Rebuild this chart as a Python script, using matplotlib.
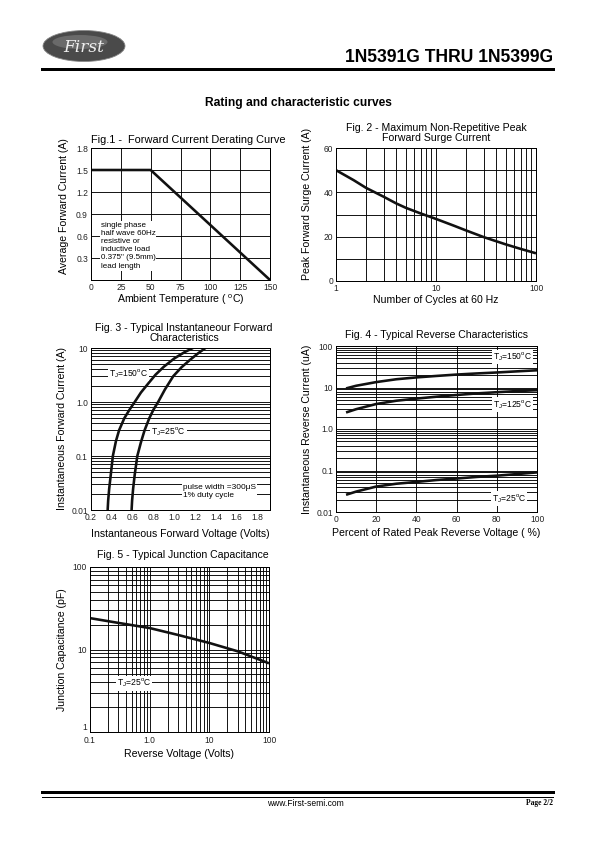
import numpy as np
import matplotlib
matplotlib.use("Agg")
import matplotlib.pyplot as plt
from matplotlib.patches import Ellipse
from matplotlib.ticker import FixedLocator, NullFormatter, LogLocator
from matplotlib.lines import Line2D

plt.rcParams['font.family'] = ['Liberation Sans', 'DejaVu Sans']
plt.rcParams['mathtext.fontset'] = 'custom'
plt.rcParams['mathtext.rm'] = 'Liberation Sans'

# ---------------- data ----------------
# Fig 1 derating
fig1_temp = [0, 50, 150]
fig1_current = [1.5, 1.5, 0.0]
fig1_xticks = [0, 25, 50, 75, 100, 125, 150]
fig1_yticks = [0.3, 0.6, 0.9, 1.2, 1.5, 1.8]

# Fig 2 surge
fig2_cycles = [1, 1.5, 2, 3, 4, 5, 7, 10, 15, 20, 30, 50, 70, 100]
fig2_current = [50, 45.5, 42, 38, 35, 33, 30.5, 28, 25, 22.8, 19.8, 16.5, 14.5, 12.5]

# Fig 3 forward characteristics
fig3_v150 = [0.36, 0.365, 0.375, 0.39, 0.41, 0.44, 0.47, 0.52, 0.57, 0.62, 0.68, 0.75, 0.82, 0.90, 1.00, 1.10, 1.18]
fig3_i150 = [0.01, 0.015, 0.025, 0.045, 0.1, 0.19, 0.3, 0.5, 0.72, 1.0, 1.5, 2.2, 3.2, 4.5, 6.4, 8.4, 10]
fig3_v25 = [0.59, 0.595, 0.605, 0.62, 0.645, 0.68, 0.715, 0.76, 0.80, 0.845, 0.91, 0.99, 1.07, 1.15, 1.23, 1.30]
fig3_i25 = [0.01, 0.015, 0.025, 0.045, 0.1, 0.18, 0.3, 0.5, 0.72, 1.0, 1.7, 3.0, 4.4, 6.0, 8.0, 10]
fig3_xticks = [0.2, 0.4, 0.6, 0.8, 1.0, 1.2, 1.4, 1.6, 1.8]

# Fig 4 reverse characteristics
fig4_pct = [5, 10, 20, 30, 40, 50, 60, 70, 80, 90, 100]
fig4_i150 = [9.5, 11, 13.5, 15.8, 17.5, 19, 20.5, 21.8, 23, 24.5, 26]
fig4_i125 = [2.5, 3.0, 4.0, 4.8, 5.4, 6.0, 6.6, 7.2, 7.7, 8.2, 8.6]
fig4_i25 = [0.026, 0.031, 0.041, 0.048, 0.053, 0.059, 0.064, 0.07, 0.075, 0.082, 0.09]

# Fig 5 capacitance
fig5_v = [0.1, 0.3, 1.0, 3.0, 10, 30, 100]
fig5_c = [24, 21, 18.2, 15, 12, 9.5, 6.8]

W, H = 595, 842
fig = plt.figure(figsize=(W / 72, H / 72), dpi=72)

TICK = 8.5
LAB = 10.5
TIT = 10.5
ANN = 8.5


def add_ax(l, t, r, b):
    return fig.add_axes([l / W, 1 - b / H, (r - l) / W, (b - t) / H])


def style(ax):
    for s in ax.spines.values():
        s.set_linewidth(1.0)
        s.set_color('black')
    ax.tick_params(which='both', length=0, labelsize=TICK, pad=3, colors='#222222')
    ax.set_axisbelow(True)


GRID = dict(color='black', linewidth=0.9)
CURVE = dict(color='#111111', linewidth=2.6, solid_capstyle='butt')
BOX = dict(facecolor='white', edgecolor='none', pad=1.0)

# ---------- header ----------
ell = Ellipse((84 / W, 1 - 46 / H), 82 / W, 31 / H, transform=fig.transFigure,
              facecolor='#4a4a4a', edgecolor='#888888', linewidth=0.8)
fig.patches.append(ell)
ell2 = Ellipse((80 / W, 1 - 42 / H), 55 / W, 14 / H, transform=fig.transFigure,
               facecolor='#8a8a8a', edgecolor='none', alpha=0.5)
fig.patches.append(ell2)
fig.text(84 / W, 1 - 47 / H, 'First', fontsize=17, style='italic', family='DejaVu Serif',
         color='#eeeeee', ha='center', va='center')
fig.text(553 / W, 1 - 57 / H, '1N5391G THRU 1N5399G', fontsize=17.5, fontweight='bold',
         ha='right', va='center')
fig.add_artist(Line2D([42 / W, 553 / W], [1 - 69 / H, 1 - 69 / H], color='black', linewidth=3))
fig.text(298 / W, 1 - 103 / H, 'Rating and characteristic curves', fontsize=12,
         fontweight='bold', ha='center', va='center')

# ---------- footer ----------
fig.add_artist(Line2D([42 / W, 553 / W], [1 - 792 / H, 1 - 792 / H], color='black', linewidth=3))
fig.add_artist(Line2D([42 / W, 553 / W], [1 - 796.5 / H, 1 - 796.5 / H], color='black', linewidth=1))
fig.text(305 / W, 1 - 803 / H, 'www.First-semi.com', fontsize=8.5, ha='center', va='center')
fig.text(553 / W, 1 - 803 / H, 'Page 2/2', fontsize=7.5, fontweight='bold', family='Liberation Serif',
         ha='right', va='center')

# ---------- Fig 1 ----------
ax1 = add_ax(91, 148, 270, 280)
style(ax1)
ax1.set_xlim(0, 150)
ax1.set_ylim(0, 1.8)
ax1.set_xticks(fig1_xticks)
ax1.set_yticks(fig1_yticks)
ax1.grid(True, **GRID)
ax1.plot(fig1_temp, fig1_current, **CURVE)
ax1.text(8, 0.79, 'single phase\nhalf wave 60Hz\nresistive or\ninductive load\n0.375" (9.5mm)\nlead length',
         fontsize=8, va='top', ha='left', linespacing=1.22, bbox=BOX)
ax1.set_xlabel('Ambient Temperature ( $^{\\mathrm{o}}$C)', fontsize=LAB, labelpad=1)
ax1.set_ylabel('Average Forward Current (A)', fontsize=LAB)
ax1.yaxis.set_label_coords(-0.125, 0.56)
ax1.set_title('Fig.1 -  Forward Current Derating Curve', fontsize=11, pad=5, loc='left', x=0.0)

# ---------- Fig 2 ----------
ax2 = add_ax(336, 148, 536, 281)
style(ax2)
ax2.set_xscale('log')
ax2.set_xlim(1, 100)
ax2.set_ylim(0, 60)
ax2.set_yticks([0, 20, 40, 60])
ax2.yaxis.set_minor_locator(FixedLocator([10, 30, 50]))
ax2.set_xticks([1, 10, 100])
ax2.set_xticklabels(['1', '10', '100'])
ax2.xaxis.set_minor_locator(LogLocator(base=10, subs=np.arange(2, 10)))
ax2.xaxis.set_minor_formatter(NullFormatter())
ax2.grid(True, which='both', **GRID)
ax2.plot(fig2_cycles, fig2_current, **CURVE)
ax2.set_xlabel('Number of Cycles at 60 Hz', fontsize=LAB, labelpad=2)
ax2.set_ylabel('Peak Forward Surge Current (A)', fontsize=LAB)
ax2.yaxis.set_label_coords(-0.12, 0.58)
ax2.set_title('Fig. 2 - Maximum Non-Repetitive Peak\nForward Surge Current', fontsize=TIT,
              pad=7, linespacing=1.0)

# ---------- Fig 3 ----------
ax3 = add_ax(91, 348, 270, 510)
style(ax3)
ax3.set_yscale('log')
ax3.set_xlim(0.2, 1.92)
ax3.set_ylim(0.01, 10)
ax3.set_xticks(fig3_xticks)
ax3.set_xticklabels([f'{t:.1f}' for t in fig3_xticks])
ax3.set_yticks([0.01, 0.1, 1, 10])
ax3.set_yticklabels(['0.01', '0.1', '1.0', '10'])
ax3.yaxis.set_minor_locator(LogLocator(base=10, subs=np.arange(2, 10)))
ax3.yaxis.set_minor_formatter(NullFormatter())
ax3.grid(True, which='both', axis='y', **GRID)
ax3.plot(fig3_v150, fig3_i150, **CURVE)
ax3.plot(fig3_v25, fig3_i25, **CURVE)
ax3.text(0.56, 3.4, 'T$_\\mathrm{J}$=150$^\\mathrm{o}$C', fontsize=ANN, ha='center', va='center', bbox=BOX)
ax3.text(0.945, 0.28, 'T$_\\mathrm{J}$=25$^\\mathrm{o}$C', fontsize=ANN, ha='center', va='center', bbox=BOX)
ax3.text(1.08, 0.022, 'pulse width =300\u03bcS\n1% duty cycle', fontsize=8.3, ha='left', va='center',
         linespacing=1.2, bbox=BOX)
ax3.set_xlabel('Instantaneous Forward Voltage (Volts)', fontsize=LAB, labelpad=7)
ax3.set_ylabel('Instantaneous Forward Current (A)', fontsize=LAB, labelpad=4)
ax3.set_title('Fig. 3 - Typical Instantaneour Forward\nCharacteristics', fontsize=TIT, pad=7,
              linespacing=1.0, x=0.52)

# ---------- Fig 4 ----------
ax4 = add_ax(336, 346, 537, 512)
style(ax4)
ax4.set_yscale('log')
ax4.set_xlim(0, 100)
ax4.set_ylim(0.01, 100)
ax4.set_xticks([0, 20, 40, 60, 80, 100])
ax4.set_yticks([0.01, 0.1, 1, 10, 100])
ax4.set_yticklabels(['0.01', '0.1', '1.0', '10', '100'])
ax4.yaxis.set_minor_locator(LogLocator(base=10, subs=np.arange(2, 10)))
ax4.yaxis.set_minor_formatter(NullFormatter())
ax4.grid(True, which='major', axis='x', **GRID)
ax4.grid(True, which='both', axis='y', **GRID)
ax4.plot(fig4_pct, fig4_i150, **CURVE)
ax4.plot(fig4_pct, fig4_i125, **CURVE)
ax4.plot(fig4_pct, fig4_i25, **CURVE)
ax4.text(88, 55, 'T$_\\mathrm{J}$=150$^\\mathrm{o}$C', fontsize=ANN, ha='center', va='center', bbox=BOX)
ax4.text(88, 3.9, 'T$_\\mathrm{J}$=125$^\\mathrm{o}$C', fontsize=ANN, ha='center', va='center', bbox=BOX)
ax4.text(86, 0.021, 'T$_\\mathrm{J}$=25$^\\mathrm{o}$C', fontsize=ANN, ha='center', va='center', bbox=BOX)
ax4.set_xlabel('Percent of Rated Peak Reverse Voltage ( %)', fontsize=LAB, labelpad=4)
ax4.set_ylabel('Instantaneous Reverse Current (uA)', fontsize=LAB, labelpad=4)
ax4.set_title('Fig. 4 - Typical Reverse Characteristics', fontsize=TIT, pad=8)

# ---------- Fig 5 ----------
ax5 = add_ax(90, 567, 269, 732)
style(ax5)
ax5.set_xscale('log')
ax5.set_yscale('log')
ax5.set_xlim(0.1, 100)
ax5.set_ylim(1, 100)
ax5.set_xticks([0.1, 1, 10, 100])
ax5.set_xticklabels(['0.1', '1.0', '10', '100'])
ax5.set_yticks([1, 10, 100])
ax5.set_yticklabels(['1', '10', '100'])
for a in (ax5.xaxis, ax5.yaxis):
    a.set_minor_locator(LogLocator(base=10, subs=np.arange(2, 10)))
    a.set_minor_formatter(NullFormatter())
ax5.grid(True, which='both', **GRID)
ax5.plot(fig5_v, fig5_c, **CURVE)
ax5.text(0.55, 3.9, 'T$_\\mathrm{J}$=25$^\\mathrm{o}$C', fontsize=ANN, ha='center', va='center', bbox=BOX)
ax5.set_xlabel('Reverse Voltage (Volts)', fontsize=LAB, labelpad=4)
ax5.set_ylabel('Junction Capacitance (pF)', fontsize=LAB, labelpad=6)
ax5.set_title('Fig. 5 - Typical Junction Capacitance', fontsize=TIT, pad=9, x=0.52)
for t in ax5.yaxis.get_major_ticks():
    if t.get_loc() == 1:
        t.label1.set_va('bottom')
for t in ax5.xaxis.get_major_ticks():
    t.label1.set_y(-0.005)

fig.savefig('out.png', dpi=72)
